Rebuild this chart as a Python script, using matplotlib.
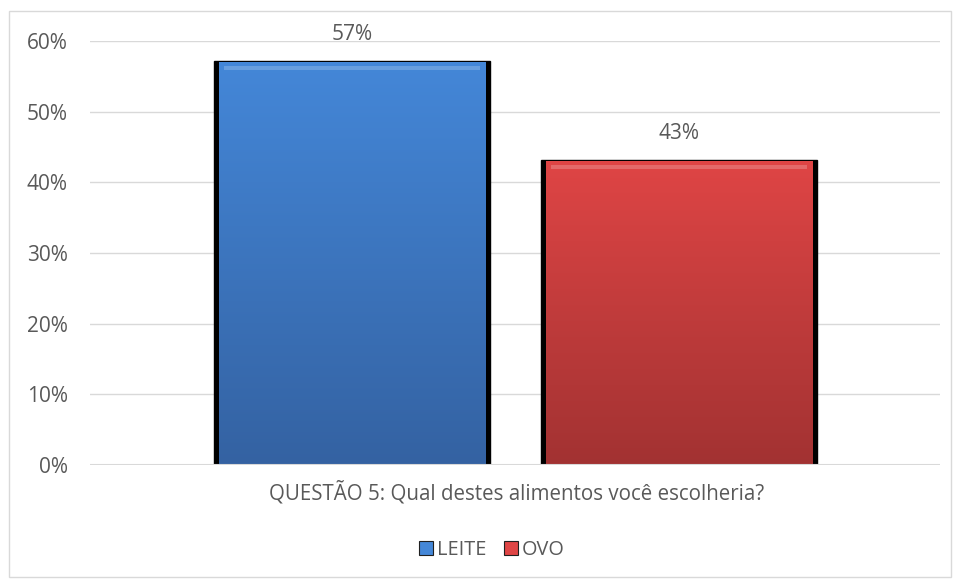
import numpy as np
import matplotlib.pyplot as plt
from matplotlib.patches import Rectangle
from matplotlib.colors import LinearSegmentedColormap

series = ['LEITE', 'OVO']
values = [0.57, 0.43]
labels = ['57%', '43%']
yticks = [0, 0.1, 0.2, 0.3, 0.4, 0.5, 0.6]
ytick_labels = ['0%', '10%', '20%', '30%', '40%', '50%', '60%']
xlabel = 'QUESTÃO 5: Qual destes alimentos você escolheria?'

# top / bottom colours of each bar gradient
grad = [('#4487d8', '#3462a2'), ('#df4545', '#a23232')]
xpos = [0.308, 0.693]
width = 0.313

plt.rcParams['font.family'] = ['Open Sans', 'DejaVu Sans']
txt = '#595959'

fig = plt.figure(figsize=(9.55, 5.8), dpi=100)
W, H = 955, 580
fig.patches.append(Rectangle((9 / W, 3 / H), 942 / W, 566 / H, transform=fig.transFigure,
                             fill=False, edgecolor='#d9d9d9', lw=1))

ax = fig.add_axes([90 / W, 115 / H, 850 / W, 424 / H])
for s in ax.spines.values():
    s.set_visible(False)
ax.set_yticks(yticks)
ax.set_yticklabels(ytick_labels, fontsize=15, color=txt)
ax.tick_params(axis='y', length=0, pad=16)
ax.set_xticks([])
ax.yaxis.grid(True, color='#d9d9d9', lw=1)
ax.set_axisbelow(True)

dx = 5 / 850
for x, v, lab, (c1, c2) in zip(xpos, values, labels, grad):
    x0 = x - width / 2
    # dark shadow behind the bar
    ax.add_patch(Rectangle((x0 - dx, -0.004), width + 2 * dx, v + 0.005, color='black', zorder=2))
    cmap = LinearSegmentedColormap.from_list('g', [c2, c1])
    im = ax.imshow(np.linspace(0, 1, 256).reshape(-1, 1), cmap=cmap, origin='lower',
                   extent=[x0, x0 + width, 0, v], aspect='auto', zorder=3)
    im.set_clip_path(Rectangle((x0, 0), width, v, transform=ax.transData))
    # light bevel at the top
    ax.add_patch(Rectangle((x0 + dx, v - 0.011), width - 2 * dx, 0.006,
                           color='white', alpha=0.2, lw=0, zorder=4))
    ax.text(x, v + 0.024, lab, ha='center', va='bottom', fontsize=15, color=txt)

ax.axhline(0, color='#d9d9d9', lw=1.5, zorder=5)
ax.set_xlim(0, 1)
ax.set_ylim(0, 0.6)

fig.text(517 / W, 1 - 493 / H, xlabel, ha='center', va='center', fontsize=14.8, color=txt)

handles = [Rectangle((0, 0), 1, 1, facecolor=c1, edgecolor='#202020', lw=0.8) for c1, _ in grad]
fig.legend(handles, series, loc='center', bbox_to_anchor=(492 / W, 1 - 550 / H), ncol=2,
           frameon=False, fontsize=14.3, labelcolor=txt, handlelength=0.7, handleheight=0.7,
           handletextpad=0.2, columnspacing=0.9)

fig.savefig('out.png', dpi=100)
